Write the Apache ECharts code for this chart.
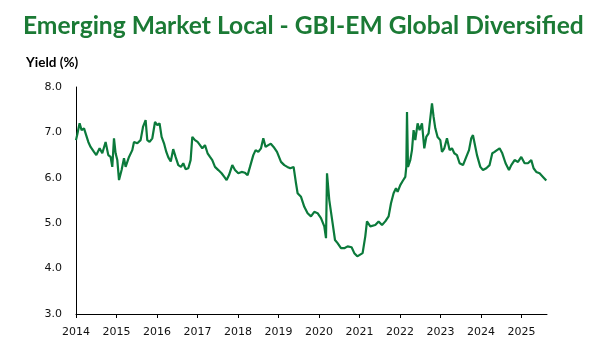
<!DOCTYPE html>
<html><head><meta charset="utf-8">
<script src="https://cdn.jsdelivr.net/npm/echarts@6/dist/echarts.min.js"></script>
<style>html,body{margin:0;padding:0;background:#fff}#c{width:604px;height:356px}</style>
</head><body><div id="c"></div>
<script>
const titleText = 'Emerging Market Local - GBI-EM Global Diversified';
const yTitle = 'Yield (%)';
const yearTicks = [2014,2015,2016,2017,2018,2019,2020,2021,2022,2023,2024,2025];
// time in decimal years
const times = [2014.0,2014.03,2014.089,2014.138,2014.198,2014.237,2014.304,2014.36,2014.444,2014.501,2014.583,2014.649,2014.731,2014.798,2014.854,2014.896,2014.938,2014.978,2015.02,2015.062,2015.126,2015.185,2015.225,2015.309,2015.39,2015.432,2015.514,2015.595,2015.654,2015.719,2015.76,2015.817,2015.884,2015.951,2016.007,2016.064,2016.114,2016.173,2016.23,2016.28,2016.34,2016.4,2016.459,2016.526,2016.593,2016.649,2016.706,2016.773,2016.83,2016.872,2016.938,2017.002,2017.062,2017.119,2017.185,2017.249,2017.309,2017.365,2017.432,2017.514,2017.595,2017.662,2017.719,2017.778,2017.859,2017.926,2018.007,2018.089,2018.173,2018.237,2018.296,2018.378,2018.435,2018.501,2018.568,2018.625,2018.681,2018.748,2018.81,2018.879,2018.963,2019.062,2019.143,2019.217,2019.291,2019.373,2019.39,2019.432,2019.472,2019.556,2019.637,2019.719,2019.802,2019.884,2019.965,2020.049,2020.131,2020.173,2020.198,2020.254,2020.336,2020.395,2020.459,2020.543,2020.625,2020.706,2020.805,2020.872,2020.946,2020.995,2021.077,2021.143,2021.185,2021.267,2021.39,2021.472,2021.556,2021.637,2021.719,2021.778,2021.842,2021.901,2021.941,2022.007,2022.074,2022.131,2022.156,2022.173,2022.198,2022.254,2022.296,2022.336,2022.378,2022.435,2022.484,2022.543,2022.6,2022.649,2022.706,2022.748,2022.79,2022.83,2022.872,2022.928,2022.995,2023.037,2023.094,2023.16,2023.225,2023.284,2023.341,2023.407,2023.472,2023.556,2023.637,2023.704,2023.76,2023.802,2023.842,2023.901,2023.983,2024.049,2024.131,2024.212,2024.279,2024.336,2024.395,2024.459,2024.526,2024.607,2024.691,2024.748,2024.83,2024.914,2024.995,2025.077,2025.16,2025.242,2025.299,2025.365,2025.447,2025.531,2025.612];
const yields = [6.83,6.95,7.20,7.05,7.09,6.98,6.79,6.68,6.57,6.50,6.65,6.54,6.79,6.50,6.46,6.24,6.87,6.54,6.39,5.95,6.17,6.43,6.24,6.46,6.61,6.79,6.76,6.83,7.12,7.27,6.83,6.79,6.87,7.23,7.16,7.20,6.90,6.76,6.57,6.45,6.36,6.63,6.46,6.28,6.24,6.32,6.19,6.21,6.39,6.90,6.83,6.79,6.72,6.65,6.72,6.54,6.46,6.39,6.24,6.17,6.10,6.02,5.95,6.06,6.28,6.17,6.10,6.13,6.11,6.06,6.24,6.50,6.61,6.57,6.65,6.87,6.68,6.72,6.75,6.68,6.57,6.35,6.28,6.24,6.21,6.24,6.24,5.88,5.66,5.58,5.36,5.22,5.15,5.25,5.22,5.11,4.93,4.67,6.10,5.51,5.00,4.63,4.56,4.45,4.45,4.49,4.47,4.34,4.27,4.23,4.34,4.71,5.04,4.93,4.96,5.04,4.96,5.04,5.15,5.44,5.66,5.77,5.69,5.84,5.94,6.02,6.24,7.45,6.24,6.39,6.61,7.05,6.83,7.20,7.05,7.20,6.65,6.90,6.98,7.31,7.64,7.34,7.09,6.90,6.83,6.57,6.65,6.87,6.61,6.65,6.54,6.50,6.32,6.28,6.46,6.61,6.87,6.94,6.76,6.50,6.24,6.17,6.21,6.28,6.54,6.57,6.61,6.65,6.54,6.32,6.17,6.28,6.39,6.35,6.46,6.32,6.32,6.39,6.21,6.13,6.10,6.02,5.94];

const data = times.map((t,i)=>[t, yields[i]]);
const chart = echarts.init(document.getElementById('c'), null, {renderer:'canvas'});
chart.setOption({
  animation:false,
  backgroundColor:'#ffffff',
  title:[{
    text:titleText, left:18, top:9,
    textStyle:{fontFamily:'Lato', fontWeight:'bold', fontSize:24.6, color:'#1b7a35',
      textShadowColor:'rgba(214,180,40,0.7)', textShadowOffsetX:1, textShadowOffsetY:1, textShadowBlur:0}
  },{
    text:yTitle, left:21, top:51,
    textStyle:{fontFamily:'Lato', fontWeight:'bold', fontSize:13.5, color:'#000'}
  }],
  grid:{left:76, right:57, top:87, bottom:42, containLabel:false},
  xAxis:{
    type:'value', min:2014, max:2025.63,
    axisLine:{show:true, lineStyle:{color:'#000', width:1}},
    axisTick:{show:true, length:4, lineStyle:{color:'#000'}, customValues:yearTicks},
    axisLabel:{customValues:yearTicks, formatter:v=>String(Math.round(v)), fontFamily:'DejaVu Sans', fontSize:11, color:'#111', margin:13},
    splitLine:{show:false}
  },
  yAxis:{
    type:'value', min:3, max:8, interval:1,
    axisLine:{show:true, lineStyle:{color:'#000', width:1}},
    axisTick:{show:false},
    axisLabel:{formatter:v=>v.toFixed(1), fontFamily:'DejaVu Sans', fontSize:11, color:'#111', margin:14},
    splitLine:{show:false}
  },
  series:[{
    type:'line', data:data, showSymbol:false, symbol:'none',
    lineStyle:{color:'#0b7a3b', width:2.2}
  }]
});
</script></body></html>
